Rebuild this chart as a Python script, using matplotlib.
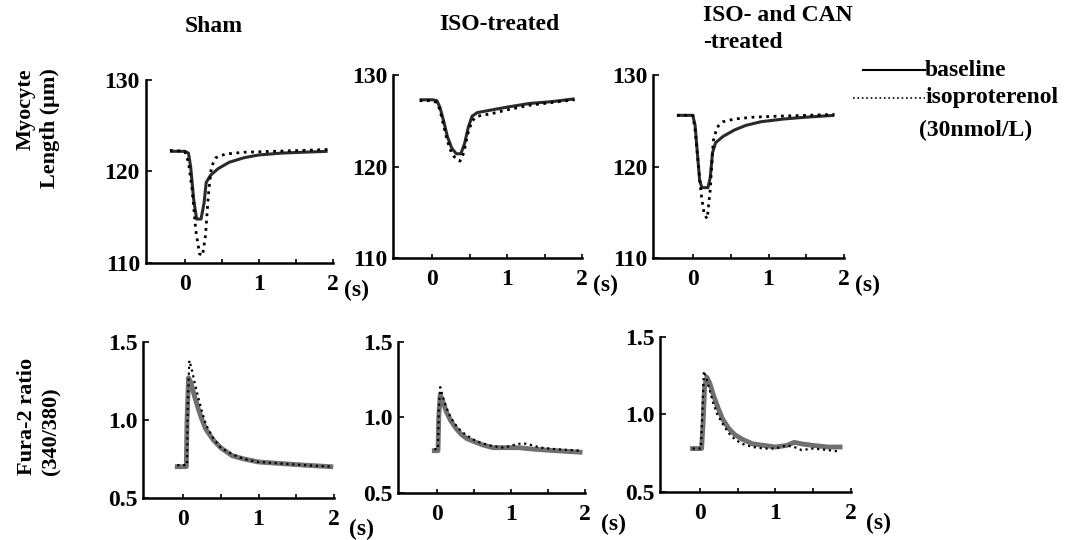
import matplotlib.pyplot as plt
from matplotlib.lines import Line2D

plt.rcParams['font.family'] = ['Liberation Serif', 'DejaVu Serif']
plt.rcParams['font.weight'] = 'bold'

# ---- data (time in s) ----
# myocyte length (um)
sham_len_t = [-0.2, 0.0, 0.05, 0.08, 0.12, 0.16, 0.22, 0.26, 0.29, 0.35, 0.45, 0.6, 0.8, 1.0, 1.3, 1.6, 1.93]
sham_len_base = [122.2, 122.2, 122.0, 120.5, 117.0, 114.8, 114.8, 116.5, 118.8, 119.6, 120.3, 121.0, 121.5, 121.8, 122.0, 122.1, 122.2]
sham_len_iso_t = [-0.2, 0.0, 0.05, 0.1, 0.15, 0.2, 0.24, 0.28, 0.32, 0.36, 0.42, 0.55, 0.8, 1.2, 1.6, 1.93]
sham_len_iso = [122.3, 122.2, 121.0, 118.0, 113.5, 111.0, 110.8, 113.0, 117.5, 120.5, 121.5, 121.9, 122.1, 122.2, 122.3, 122.4]

iso_len_t = [-0.17, 0.0, 0.06, 0.1, 0.15, 0.2, 0.26, 0.32, 0.38, 0.43, 0.48, 0.53, 0.6, 0.8, 1.0, 1.3, 1.6, 1.9]
iso_len_base = [127.3, 127.3, 127.2, 126.5, 125.0, 123.3, 122.0, 121.4, 121.4, 122.5, 124.3, 125.5, 125.9, 126.2, 126.5, 126.9, 127.1, 127.4]
iso_len_iso_t = [-0.17, 0.0, 0.06, 0.1, 0.15, 0.2, 0.26, 0.32, 0.37, 0.42, 0.47, 0.53, 0.6, 0.8, 1.0, 1.3, 1.6, 1.9]
iso_len_iso = [127.2, 127.2, 127.0, 126.2, 124.5, 122.8, 121.4, 120.8, 120.6, 121.5, 123.5, 125.0, 125.5, 125.8, 126.2, 126.7, 127.0, 127.3]

can_len_t = [-0.21, 0.0, 0.03, 0.06, 0.09, 0.12, 0.2, 0.23, 0.26, 0.3, 0.4, 0.55, 0.7, 0.9, 1.2, 1.5, 1.87]
can_len_base = [125.6, 125.6, 124.5, 121.5, 118.5, 117.7, 117.7, 118.8, 121.5, 122.6, 123.3, 124.0, 124.5, 124.9, 125.2, 125.4, 125.6]
can_len_iso_t = [-0.21, 0.0, 0.03, 0.07, 0.11, 0.15, 0.19, 0.23, 0.27, 0.32, 0.4, 0.55, 0.8, 1.1, 1.5, 1.87]
can_len_iso = [125.6, 125.6, 124.0, 120.5, 117.0, 114.8, 114.3, 117.5, 122.8, 124.3, 124.9, 125.2, 125.4, 125.5, 125.6, 125.7]

# fura-2 ratio (340/380)
sham_ca_t = [-0.08, 0.04, 0.05, 0.07, 0.1, 0.15, 0.2, 0.25, 0.3, 0.4, 0.5, 0.65, 0.8, 1.0, 1.3, 1.6, 1.96]
sham_ca_base = [0.70, 0.70, 1.0, 1.27, 1.24, 1.15, 1.07, 1.0, 0.94, 0.87, 0.82, 0.77, 0.75, 0.73, 0.72, 0.71, 0.70]
sham_ca_iso_t = [-0.08, 0.05, 0.06, 0.08, 0.11, 0.15, 0.2, 0.25, 0.3, 0.4, 0.5, 0.65, 0.8, 1.0, 1.3, 1.6, 1.96]
sham_ca_iso = [0.71, 0.71, 1.1, 1.38, 1.33, 1.24, 1.14, 1.05, 0.97, 0.88, 0.82, 0.78, 0.75, 0.73, 0.72, 0.71, 0.70]

iso_ca_t = [-0.04, 0.01, 0.02, 0.04, 0.08, 0.12, 0.18, 0.25, 0.32, 0.4, 0.5, 0.6, 0.75, 0.9, 1.1, 1.3, 1.6, 1.93]
iso_ca_base = [0.78, 0.78, 1.0, 1.15, 1.10, 1.04, 0.98, 0.93, 0.89, 0.86, 0.84, 0.82, 0.80, 0.80, 0.80, 0.79, 0.78, 0.77]
iso_ca_iso_t = [-0.04, 0.01, 0.02, 0.04, 0.08, 0.12, 0.18, 0.25, 0.32, 0.4, 0.5, 0.6, 0.75, 0.9, 1.05, 1.15, 1.25, 1.4, 1.6, 1.93]
iso_ca_iso = [0.79, 0.79, 1.05, 1.20, 1.13, 1.07, 1.00, 0.95, 0.91, 0.88, 0.85, 0.83, 0.81, 0.80, 0.82, 0.83, 0.82, 0.80, 0.79, 0.78]

can_ca_t = [-0.1, 0.02, 0.04, 0.06, 0.09, 0.13, 0.18, 0.24, 0.3, 0.38, 0.46, 0.56, 0.7, 0.85, 1.0, 1.15, 1.25, 1.35, 1.5, 1.7, 1.86]
can_ca_base = [0.78, 0.78, 0.95, 1.18, 1.24, 1.20, 1.12, 1.04, 0.97, 0.91, 0.87, 0.84, 0.81, 0.80, 0.79, 0.80, 0.82, 0.81, 0.80, 0.79, 0.79]
can_ca_iso_t = [-0.1, 0.01, 0.03, 0.05, 0.08, 0.12, 0.17, 0.23, 0.3, 0.38, 0.46, 0.56, 0.7, 0.85, 1.0, 1.15, 1.25, 1.35, 1.5, 1.7, 1.86]
can_ca_iso = [0.78, 0.78, 1.0, 1.28, 1.24, 1.17, 1.08, 1.00, 0.94, 0.88, 0.84, 0.81, 0.79, 0.78, 0.78, 0.80, 0.79, 0.77, 0.78, 0.77, 0.76]

len_ticks = [110, 120, 130]
ca_ticks = [0.5, 1.0, 1.5]
ca_ticklabels = ['0.5', '1.0', '1.5']
x_ticks = [0, 1, 2]

FS = 17

fig = plt.figure(figsize=(10.7, 5.4), dpi=100)

top_pos = [[0.136, 0.513, 0.175, 0.339], [0.367, 0.522, 0.177, 0.339], [0.610, 0.522, 0.179, 0.339]]
bot_pos = [[0.134, 0.078, 0.178, 0.289], [0.372, 0.087, 0.175, 0.280], [0.617, 0.089, 0.178, 0.287]]

top_data = [(sham_len_t, sham_len_base, sham_len_iso_t, sham_len_iso),
            (iso_len_t, iso_len_base, iso_len_iso_t, iso_len_iso),
            (can_len_t, can_len_base, can_len_iso_t, can_len_iso)]
bot_data = [(sham_ca_t, sham_ca_base, sham_ca_iso_t, sham_ca_iso),
            (iso_ca_t, iso_ca_base, iso_ca_iso_t, iso_ca_iso),
            (can_ca_t, can_ca_base, can_ca_iso_t, can_ca_iso)]


def style_ax(ax, s_off):
    for s in ['top', 'right']:
        ax.spines[s].set_visible(False)
    for s in ['left', 'bottom']:
        ax.spines[s].set_linewidth(1.8)
    ax.set_xlim(-0.53, 2.0)
    ax.set_xticks(x_ticks)
    ax.set_xticks([0, 0.5, 1, 1.5], minor=True)
    ax.tick_params(axis='x', which='both', direction='in', length=3, width=1.2, pad=8, labelsize=FS)
    ax.tick_params(axis='y', direction='in', length=4, width=1.2, pad=4, labelsize=FS)
    for lab in ax.get_xticklabels() + ax.get_yticklabels():
        lab.set_fontweight('bold')
    ax.annotate('(s)', xy=(2, 0), xycoords=('data', 'axes fraction'),
                xytext=s_off, textcoords='offset points', ha='center', va='top',
                fontsize=FS, fontweight='bold')


for pos, (tb, yb, ti, yi) in zip(top_pos, top_data):
    ax = fig.add_axes(pos)
    ax.plot(tb, yb, color='#2a2a2a', lw=2.2, solid_capstyle='butt')
    ax.plot(ti, yi, color='black', lw=2, ls=':')
    ax.set_ylim(110, 130)
    ax.set_yticks(len_ticks)
    style_ax(ax, (17, -12))

for pos, (tb, yb, ti, yi) in zip(bot_pos, bot_data):
    ax = fig.add_axes(pos)
    ax.plot(tb, yb, color='#707070', lw=3.5)
    ax.plot(ti, yi, color='black', lw=1.6, ls=':')
    ax.set_ylim(0.5, 1.5)
    ax.set_yticks(ca_ticks)
    ax.set_yticklabels(ca_ticklabels)
    style_ax(ax, (20, -15))

# column titles
fig.text(0.200, 0.950, 'Sham', ha='center', va='center', fontsize=FS, fontweight='bold')
fig.text(0.467, 0.954, 'ISO-treated', ha='center', va='center', fontsize=FS, fontweight='bold')
fig.text(0.657, 0.990, 'ISO- and CAN\n-treated', ha='left', va='top', fontsize=FS,
         fontweight='bold', linespacing=1.35)

# row labels
fig.text(0.035, 0.763, 'Myocyte\nLength (\u03bcm)', ha='center', va='center', rotation=90,
         fontsize=16, fontweight='bold', multialignment='right', linespacing=1.3)
fig.text(0.037, 0.228, 'Fura-2 ratio\n(340/380)', ha='center', va='center', rotation=90,
         fontsize=16, fontweight='bold', multialignment='left', linespacing=1.3)

# legend
fig.add_artist(Line2D([863 / 1070, 925 / 1070], [1 - 70 / 540, 1 - 70 / 540], color='black', lw=1.5))
fig.add_artist(Line2D([853 / 1070, 925 / 1070], [1 - 98 / 540, 1 - 98 / 540], color='black', lw=1.2, ls=':'))
fig.text(925 / 1070, 1 - 70 / 540, 'baseline', ha='left', va='center', fontsize=FS, fontweight='bold')
fig.text(925 / 1070, 1 - 98 / 540, 'isoproterenol', ha='left', va='center', fontsize=FS, fontweight='bold')
fig.text(919 / 1070, 1 - 130 / 540, '(30nmol/L)', ha='left', va='center', fontsize=FS, fontweight='bold')

fig.savefig('out.png', dpi=100)
